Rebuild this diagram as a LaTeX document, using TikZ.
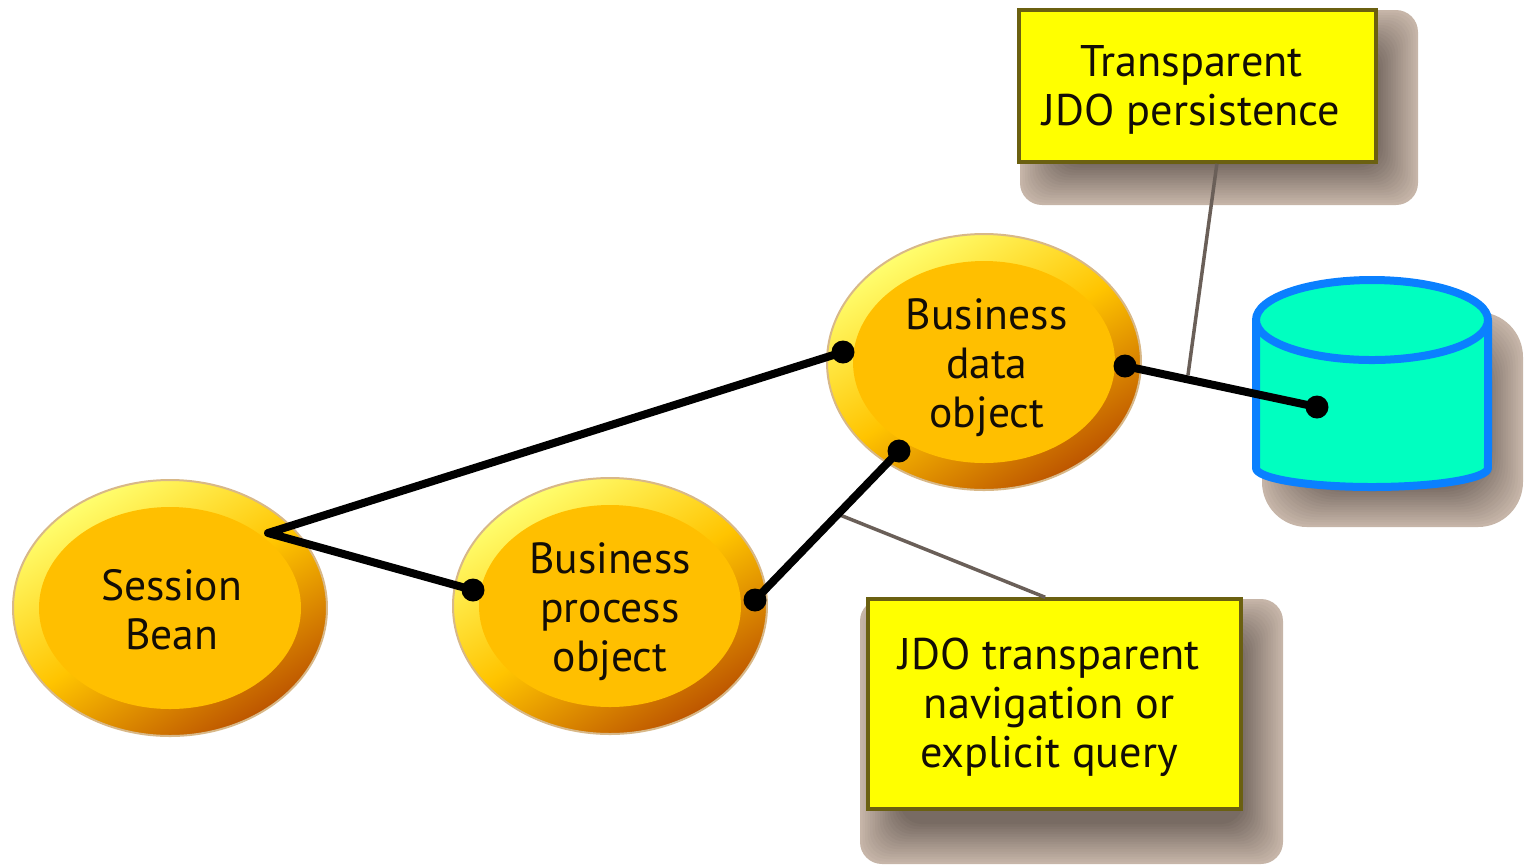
\documentclass[tikz,border=0pt]{standalone}
\usepackage{fontspec}
\setmainfont{PT Sans}
\usetikzlibrary{shapes, positioning}

\definecolor{shadowtan}{HTML}{C6B5A8}
\definecolor{shadowdark}{HTML}{786B63}
\definecolor{notefill}{HTML}{FFFF00}
\definecolor{noteline}{HTML}{6B6010}
\definecolor{beancore}{HTML}{FFBF00}
\definecolor{beanlight}{HTML}{FFFF70}
\definecolor{beanmid}{HTML}{FFC400}
\definecolor{beandark}{HTML}{BC5400}
\definecolor{beanedge}{HTML}{D8B888}
\definecolor{storeline}{HTML}{0A80FF}
\definecolor{storefill}{HTML}{00FFC0}
\definecolor{tapline}{HTML}{6A5F58}

\newcommand{\dip}[1][12pt]{\rule{0pt}{#1}}

\tikzset{
	bean/.style={ellipse, inner sep=0pt, minimum width=31.4mm, minimum height=25.6mm, draw=beanedge, line width=0.2mm,
		top color=beanlight, bottom color=beandark, middle color=beanmid, shading angle=32,
		align=center, font=\fontsize{12.4}{13.9}\selectfont, text=black!90!brown,
		path picture={\fill[beancore] (path picture bounding box.center) ellipse [x radius=13.1mm, y radius=10.1mm];}},
	note/.style={rectangle, fill=notefill, draw=noteline, line width=0.35mm, inner sep=0pt, align=center,
		font=\fontsize{12.6}{13.9}\selectfont, text=black!90!brown},
	pin/.style={circle, fill=black, inner sep=0pt, minimum size=2.3mm},
	link/.style={line width=0.8mm, black, line join=round},
	tap/.style={line width=0.35mm, tapline},
	storeface/.style={draw=storeline, fill=storefill, line width=0.8mm, line join=round}
}

\begin{document}
\begin{tikzpicture}[x=0.1mm, y=-0.1mm]
		\useasboundingbox (0,0) rectangle (1527,864);
		
		%//soft shadows
		\foreach \xa/\ya/\xb/\yb/\r in {1020/10/1418/205/22, 860/599/1283/864/22, 1262/312/1523/527/45}
		{
		\foreach \i in {0,...,16}
		{
		\pgfmathsetmacro{\mix}{\i*100/16}
		\fill [shadowdark!\mix!shadowtan, rounded corners=\r*0.1mm] (\xa+2.5*\i, \ya+2.5*\i) rectangle (\xb-2.5*\i, \yb-2.5*\i);
		}
		}
		
		%//beans
		\node [bean] (session) at (170, 608) {\dip[10pt]\kern1pt Session\\\kern1pt Bean};
		\node [bean] (process) at (610, 606) {\dip Business\\process\\object};
		\node [bean] (data) at (984, 362) {\dip\kern1.6pt Business\\\kern1.6pt data\\\kern1.6pt object};
		
		%//store
		\draw [storeface] (1256, 320) -- (1256, 468) arc [start angle=180, end angle=360, x radius=11.6mm, y radius=1.9mm] -- (1488, 320);
		\draw [storeface] (1372, 320) ellipse [x radius=11.6mm, y radius=4mm];
		
		%//notes
		\node [note, minimum width=35.7mm, minimum height=15.2mm] (noteA) at (1197.5, 86) {\dip[11pt]Transparent\kern3.4pt\\JDO persistence\kern3.4pt};
		\node [note, minimum width=37.3mm, minimum height=21mm] (noteB) at (1054.5, 704) {\dip[11pt]JDO transparent\kern3pt\\navigation or\kern3pt\\explicit query\kern3pt};
		
		%//connection points
		\foreach \name/\x/\y in {dataIn/843/352, dataOut/1125/366, dataLow/899/451, processOut/755/600, processIn/473/590, storeIn/1317/407}
		\node [pin] (\name) at (\x, \y) {};
		
		\coordinate (sessionOut) at (268, 533);
		\coordinate (tapA) at (1188, 375);
		\coordinate (tapB) at (840, 515);
		
		\draw [tap] (noteA.-76) -- (tapA);
		\draw [tap] (noteB.95) -- (tapB);
		
		\draw [link] (dataIn.center) -- (sessionOut) -- (processIn.center);
		\draw [link] (processOut.center) -- (dataLow.center);
		\draw [link] (dataOut.center) -- (storeIn.center);
		\end{tikzpicture}
\end{document}
